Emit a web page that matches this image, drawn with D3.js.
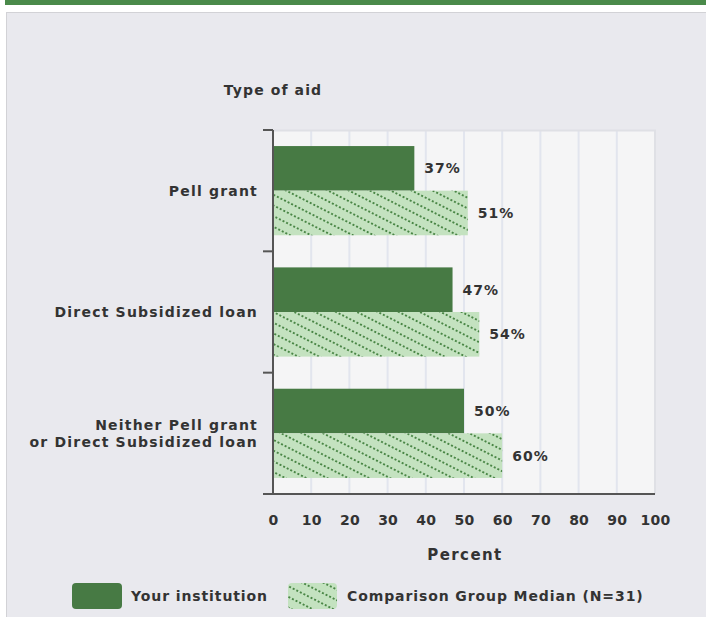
<!DOCTYPE html>
<html>
<head>
<meta charset="utf-8">
<script src="https://cdnjs.cloudflare.com/ajax/libs/d3/7.8.5/d3.min.js"></script>
<style>
  html, body { margin: 0; padding: 0; background: #ffffff; }
  svg { display: block; }
  text { font-family: "DejaVu Sans", Verdana, sans-serif; font-weight: bold; fill: #333333; }
</style>
</head>
<body>
<svg id="chart" width="706" height="617"></svg>
<script>
const categories = ["Pell grant", "Direct Subsidized loan", "Neither Pell grant|or Direct Subsidized loan"];
const seriesNames = ["Your institution", "Comparison Group Median (N=31)"];
const yourInstitution = [37, 47, 50];
const comparisonMedian = [51, 54, 60];
const xTicks = [0, 10, 20, 30, 40, 50, 60, 70, 80, 90, 100];
const xTitle = "Percent";
const yTitle = "Type of aid";

const W = 706, H = 617;
const svg = d3.select("#chart");
const defs = svg.append("defs");

const darkGreen = "#477a44";
const lightGreen = "#c4e2c0";
const dotGreen = "#4a8646";

const pat = defs.append("pattern")
  .attr("id", "hatch")
  .attr("patternUnits", "userSpaceOnUse")
  .attr("width", 20).attr("height", 9.5)
  .attr("patternTransform", "rotate(27)");
pat.append("rect").attr("width", 20).attr("height", 9.5).attr("fill", lightGreen);
pat.append("line").attr("x1", 0).attr("x2", 20).attr("y1", 2).attr("y2", 2)
  .attr("stroke", dotGreen).attr("stroke-width", 1.9).attr("stroke-dasharray", "2 2");

// header bar and panel
svg.append("rect").attr("x", 5).attr("y", 0).attr("width", W - 5).attr("height", 5).attr("fill", "#4a8a4a");
svg.append("rect").attr("x", 6).attr("y", 12).attr("width", W - 6).attr("height", H - 12).attr("fill", "#e9e9ee");
svg.append("line").attr("x1", 6.5).attr("x2", 6.5).attr("y1", 12).attr("y2", H).attr("stroke", "#d2d2d6");
svg.append("line").attr("x1", 6).attr("x2", W).attr("y1", 12.5).attr("y2", 12.5).attr("stroke", "#d2d2d6");

const x = d3.scaleLinear().domain([0, 100]).range([273, 655]);
const y = d3.scaleBand().domain(categories).range([130, 494]).paddingInner(0).paddingOuter(0);
const ySub = d3.scaleBand().domain(seriesNames).range([0, y.bandwidth()]).paddingInner(0).paddingOuter(0.36);

// plot background
svg.append("rect").attr("x", x(0)).attr("y", 130).attr("width", x(100) - x(0)).attr("height", 494 - 130).attr("fill", "#f5f5f6");
// grid
svg.append("g").selectAll("line").data(xTicks.filter(d => d > 0 && d < 100)).join("line")
  .attr("x1", d => x(d)).attr("x2", d => x(d)).attr("y1", 130).attr("y2", 494)
  .attr("stroke", "#e2e5ee").attr("stroke-width", 2);
// plot border top/right
svg.append("path").attr("d", `M${x(0)},130.5H${x(100)}V494`).attr("fill", "none").attr("stroke", "#dfe0e5").attr("stroke-width", 2);

// bars
const rows = categories.map((c, i) => ({ c, vals: [yourInstitution[i], comparisonMedian[i]] }));
const g = svg.append("g");
rows.forEach(r => {
  r.vals.forEach((v, j) => {
    const s = seriesNames[j];
    g.append("rect")
      .attr("x", x(0)).attr("y", y(r.c) + ySub(s))
      .attr("width", x(v) - x(0)).attr("height", ySub.bandwidth())
      .attr("fill", j === 0 ? darkGreen : "url(#hatch)");
    g.append("text")
      .attr("x", x(v) + 10).attr("y", y(r.c) + ySub(s) + ySub.bandwidth() / 2)
      .attr("dy", "0.36em").attr("font-size", 14).attr("letter-spacing", 1.0)
      .text(v + "%");
  });
});

// y axis
const yb = categories.map(c => y(c)).concat([494]);
svg.append("line").attr("x1", x(0)).attr("x2", x(0)).attr("y1", 130).attr("y2", 494).attr("stroke", "#555").attr("stroke-width", 2);
svg.append("g").selectAll("line").data(yb).join("line")
  .attr("x1", 263).attr("x2", x(0)).attr("y1", d => d).attr("y2", d => d)
  .attr("stroke", "#555").attr("stroke-width", 2);
svg.append("line").attr("x1", 263).attr("x2", x(100)).attr("y1", 494).attr("y2", 494).attr("stroke", "#555").attr("stroke-width", 2);

// category labels
categories.forEach(c => {
  const lines = c.split("|");
  const cy = y(c) + y.bandwidth() / 2;
  const t = svg.append("text").attr("text-anchor", "end").attr("font-size", 14).attr("letter-spacing", 1.2);
  lines.forEach((ln, k) => {
    t.append("tspan").attr("x", 258).attr("y", cy + (k - (lines.length - 1) / 2) * 17).attr("dy", "0.36em").text(ln);
  });
});

// x axis labels
const xa = d3.axisBottom(x).tickValues(xTicks).tickSize(0).tickPadding(0);
const xg = svg.append("g").attr("transform", "translate(0,494)").call(xa);
xg.select(".domain").remove();
xg.selectAll("text").attr("y", 31).attr("dy", 0).attr("font-size", 14).attr("letter-spacing", 0.2)
  .style("font-family", "DejaVu Sans, Verdana, sans-serif").style("font-weight", "bold").attr("fill", "#333333");

svg.append("text").attr("x", 465).attr("y", 560).attr("text-anchor", "middle").attr("font-size", 15).attr("letter-spacing", 1.4).text(xTitle);
svg.append("text").attr("x", 273).attr("y", 95).attr("text-anchor", "middle").attr("font-size", 14).attr("letter-spacing", 1.1).text(yTitle);

// legend
const leg = [
  { name: seriesNames[0], x: 72, w: 50, fill: darkGreen, tx: 131 },
  { name: seriesNames[1], x: 288, w: 49, fill: "url(#hatch)", tx: 347 }
];
leg.forEach(l => {
  svg.append("rect").attr("x", l.x).attr("y", 583).attr("width", l.w).attr("height", 26).attr("rx", 4).attr("fill", l.fill);
  svg.append("text").attr("x", l.tx).attr("y", 596).attr("dy", "0.36em").attr("font-size", 14).attr("letter-spacing", 0.9).text(l.name);
});
</script>
</body>
</html>
